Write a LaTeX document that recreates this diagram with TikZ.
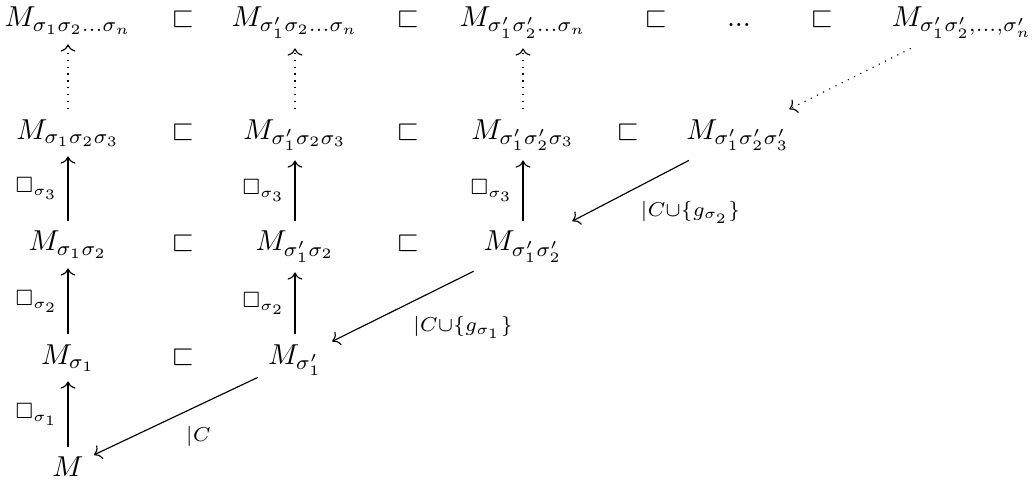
\documentclass[tikz,border=0pt]{standalone}
\usepackage{amsmath,amssymb}
\usetikzlibrary{arrows.meta}
\tikzset{
  obj/.style={anchor=base},
  rel/.style={anchor=base},
  arr/.style={-{Computer Modern Rightarrow},line width=.4pt},
  darr/.style={arr,dotted},
  lbl/.style={auto,midway},
}
\begin{document}
\begin{tikzpicture}
  \useasboundingbox (0,0) rectangle (12.615,5.929);
  % column of sigma_1
  \node[obj] (m0) at (0.830,0.110) {$M$};
  \node[obj] (m1) at (0.830,1.488) {$M_{\sigma_1}$};
  \node[obj] (m12) at (0.830,2.867) {$M_{\sigma_1\sigma_2}$};
  \node[obj] (m123) at (0.830,4.233) {$M_{\sigma_1\sigma_2\sigma_3}$};
  \node[obj] (m1n) at (0.830,5.600) {$M_{\sigma_1\sigma_2...\sigma_n}$};
  % column of sigma'_1
  \node[obj] (p1) at (3.599,1.488) {$M_{\sigma'_1}$};
  \node[obj] (p12) at (3.599,2.867) {$M_{\sigma'_1\sigma_2}$};
  \node[obj] (p123) at (3.599,4.233) {$M_{\sigma'_1\sigma_2\sigma_3}$};
  \node[obj] (p1n) at (3.599,5.600) {$M_{\sigma'_1\sigma_2...\sigma_n}$};
  % column of sigma'_2
  \node[obj] (q12) at (6.381,2.867) {$M_{\sigma'_1\sigma'_2}$};
  \node[obj] (q123) at (6.381,4.233) {$M_{\sigma'_1\sigma'_2\sigma_3}$};
  \node[obj] (q1n) at (6.381,5.600) {$M_{\sigma'_1\sigma'_2...\sigma_n}$};
  % right end
  \node[obj] (r123) at (9.004,4.233) {$M_{\sigma'_1\sigma'_2\sigma'_3}$};
  \node[obj] (dots) at (9.016,5.600) {$...$};
  \node[obj] (rn) at (11.736,5.600) {$M_{\sigma'_1\sigma'_2,...,\sigma'_n}$};
  % inclusions
  \node[rel] (s41) at (2.233,1.488) {$\sqsubset$};
  \node[rel] (s31) at (2.233,2.867) {$\sqsubset$};
  \node[rel] (s32) at (4.978,2.867) {$\sqsubset$};
  \node[rel] (s21) at (2.233,4.233) {$\sqsubset$};
  \node[rel] (s22) at (4.978,4.233) {$\sqsubset$};
  \node[rel] (s23) at (7.662,4.233) {$\sqsubset$};
  \node[rel] (s11) at (2.233,5.600) {$\sqsubset$};
  \node[rel] (s12) at (4.978,5.600) {$\sqsubset$};
  \node[rel] (s13) at (8.003,5.600) {$\sqsubset$};
  \node[rel] (s14) at (10.028,5.600) {$\sqsubset$};
  % upward steps
  \draw[arr] (m0) -- node[lbl] {$\scriptstyle\Box_{\sigma_1}$} (m1);
  \draw[arr] (m1) -- node[lbl] {$\scriptstyle\Box_{\sigma_2}$} (m12);
  \draw[arr] (m12) -- node[lbl] {$\scriptstyle\Box_{\sigma_3}$} (m123);
  \draw[darr] (m123) -- (m1n);
  \draw[arr] (p1) -- node[lbl] {$\scriptstyle\Box_{\sigma_2}$} (p12);
  \draw[arr] (p12) -- node[lbl] {$\scriptstyle\Box_{\sigma_3}$} (p123);
  \draw[darr] (p123) -- (p1n);
  \draw[arr] (q12) -- node[lbl] {$\scriptstyle\Box_{\sigma_3}$} (q123);
  \draw[darr] (q123) -- (q1n);
  % restrictions
  \draw[arr] (p1) -- node[lbl] {$\scriptstyle|C$} (m0);
  \draw[arr] (q12) -- node[lbl] {$\scriptstyle|C\cup\{g_{\sigma_1}\}$} (p1);
  \draw[arr] (r123) -- node[lbl] {$\scriptstyle|C\cup\{g_{\sigma_2}\}$} (q12);
  \draw[darr] (rn) -- (r123);
\end{tikzpicture}
\end{document}
